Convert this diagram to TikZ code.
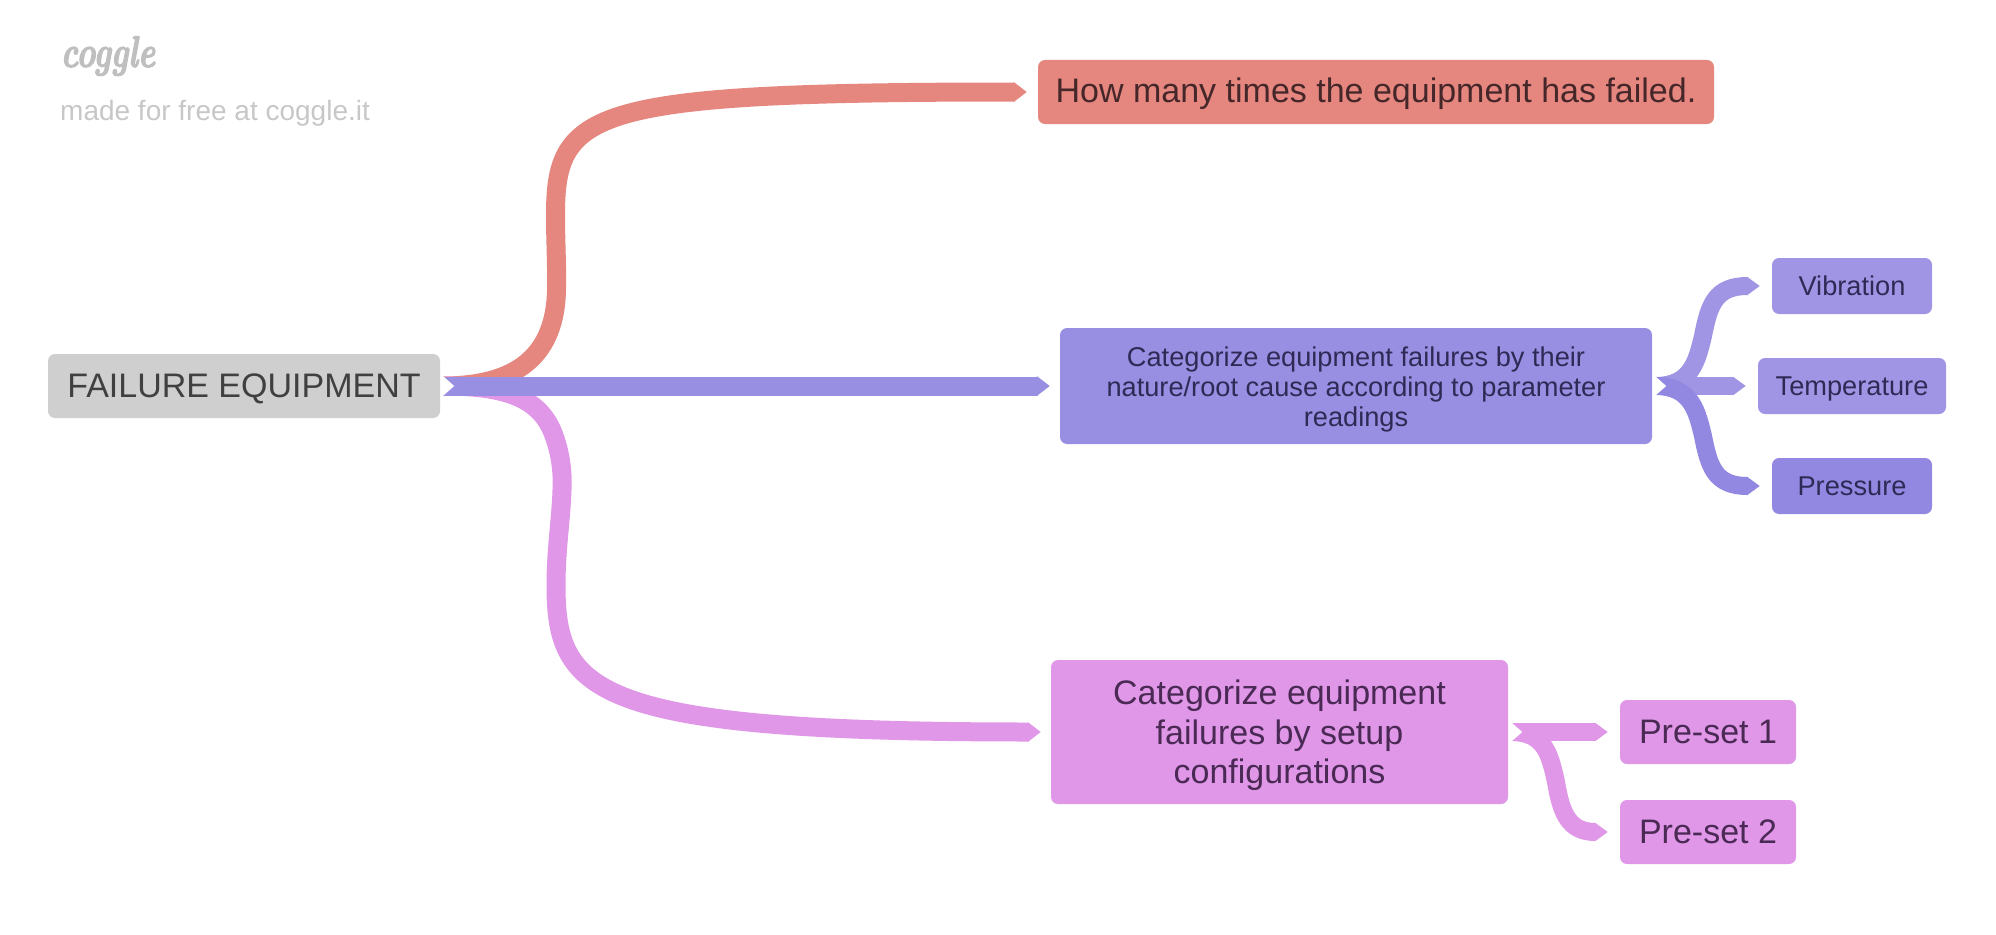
\documentclass[tikz,border=0pt]{standalone}
\usepackage{fontspec}
\newfontfamily\libsans{Liberation Sans}
\usetikzlibrary{arrows.meta}
\definecolor{cgrey}{HTML}{CFCFCF}
\definecolor{cred}{HTML}{E5867F}
\definecolor{cpurple}{HTML}{998FE2}
\definecolor{cpink}{HTML}{E097E8}
\definecolor{cvib}{HTML}{9F95E4}
\definecolor{cpres}{HTML}{9288E2}
\definecolor{tgrey}{HTML}{404040}
\definecolor{tred}{HTML}{45272A}
\definecolor{tpurple}{HTML}{2F2A55}
\definecolor{tpink}{HTML}{4A2A55}
\tikzset{
  x=1pt,y=-1pt,
  boxnode/.style={rectangle,rounded corners=7pt,inner sep=0pt,align=center},
  bigone/.style={boxnode,font=\libsans\fontsize{34}{40}\selectfont,text height=23pt,text depth=0pt},
  smallone/.style={boxnode,font=\libsans\fontsize{27.2}{30}\selectfont,text height=19.4pt,text depth=0pt},
  bigmulti/.style={boxnode,font=\libsans\fontsize{34}{39.6}\selectfont},
  smallmulti/.style={boxnode,font=\libsans\fontsize{27.2}{30}\selectfont},
  ribbon/.style={line width=#1,line cap=butt,-{Triangle[length=13pt 0 0,width=#1 0,inset=0pt]}},
  ribbon/.default=18pt,
}
\newcommand{\tailnotch}[1]{\fill[white] ([shift={(1.5,-11)}]#1.east) -- ([shift={(14,0)}]#1.east) -- ([shift={(1.5,11)}]#1.east) -- cycle;}
\begin{document}
\begin{tikzpicture}
\useasboundingbox (0,0) rectangle (1996,934);
% logo
\node[text=black!25,font=\fontsize{44}{44}\selectfont\bfseries\itshape,xscale=.74,inner sep=0pt] (logo) at (108,56) {\special{pdf:code 2 Tr 1.3 w}coggle\special{pdf:code 0 Tr}};
\node[text=black!22,font=\libsans\fontsize{28}{30}\selectfont,anchor=base west,inner sep=0pt] (made) at (60,120.5) {made for free at coggle.it};
% nodes
\node[bigone,fill=cgrey,text=tgrey,minimum width=392pt,minimum height=64pt] (root) at (244,386) {FAILURE EQUIPMENT};
\node[bigone,fill=cred,text=tred,minimum width=676pt,minimum height=64pt,text height=21pt] (fail) at (1376,92) {How many times the equipment has failed.};
\node[smallmulti,fill=cpurple,text=tpurple,minimum width=592pt,minimum height=116pt] (cat) at (1356,386) {\rule{0pt}{26pt}Categorize equipment failures by their\\nature/root cause according to parameter\\readings};
\node[bigmulti,fill=cpink,text=tpink,minimum width=457pt,minimum height=144pt] (setup) at (1279.5,732) {\rule{0pt}{31.6pt}Categorize equipment\\failures by setup\\configurations};
\node[smallone,fill=cvib,text=tpurple,minimum width=160pt,minimum height=56pt] (vib) at (1852,286) {Vibration};
\node[smallone,fill=cvib,text=tpurple,minimum width=188pt,minimum height=56pt] (temp) at (1852,386) {Temperature};
\node[smallone,fill=cpres,text=tpurple,minimum width=160pt,minimum height=56pt] (pres) at (1852,486) {Pressure};
\node[bigone,fill=cpink,text=tpink,minimum width=176pt,minimum height=64pt] (pa) at (1708,732) {Pre-set 1};
\node[bigone,fill=cpink,text=tpink,minimum width=176pt,minimum height=64pt] (pb) at (1708,832) {Pre-set 2};
% root ribbons
\draw[ribbon=19pt,cred] ([xshift=2pt]root.east) .. controls (505,386) and (555,365) .. (556.5,290) .. controls (557,265) and (555.5,240) .. (555.5,215) .. controls (555.5,110) and (590,92) .. ([xshift=-11pt]fail.west);
\draw[ribbon=19pt,cpink] ([xshift=2pt]root.east) .. controls (500,386) and (538,395) .. (553,433) .. controls (560,451) and (563,470) .. (562,490) .. controls (561,520) and (556,550) .. (556,585) .. controls (556,692) and (592,732) .. ([xshift=-10pt]setup.west);
\draw[ribbon=19pt,cpurple] ([xshift=2pt]root.east) -- ([xshift=-10pt]cat.west);
\tailnotch{root}
% cat ribbons
\draw[ribbon,cvib] ([xshift=3pt]cat.east) .. controls (1692,386) and (1697,360) .. (1703,336) .. controls (1709,305) and (1715,286) .. ([xshift=-12pt]vib.west);
\draw[ribbon,cvib] ([xshift=3pt]cat.east) -- ([xshift=-12pt]temp.west);
\draw[ribbon,cpres] ([xshift=3pt]cat.east) .. controls (1692,386) and (1697,412) .. (1703,436) .. controls (1709,467) and (1715,486) .. ([xshift=-12pt]pres.west);
\tailnotch{cat}
% setup ribbons
\draw[ribbon,cpink] ([xshift=3pt]setup.east) -- ([xshift=-12pt]pa.west);
\draw[ribbon,cpink] ([xshift=3pt]setup.east) .. controls (1545,732) and (1550,755) .. (1556,782) .. controls (1561,812) and (1568,832) .. ([xshift=-12pt]pb.west);
\tailnotch{setup}
\end{tikzpicture}
\end{document}
